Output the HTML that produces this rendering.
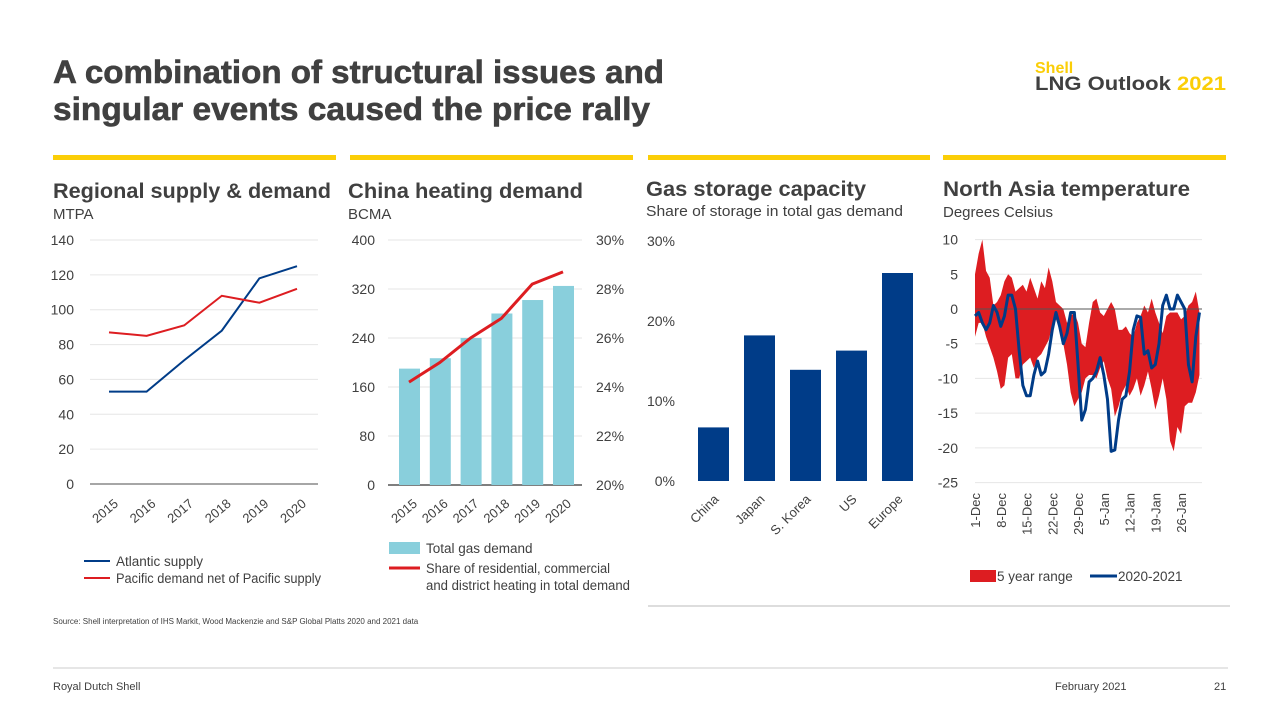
<!DOCTYPE html>
<html><head><meta charset="utf-8"><style>
body{margin:0;width:1280px;height:720px;background:#fff;overflow:hidden;font-family:"Liberation Sans",sans-serif}
svg text{font-family:"Liberation Sans",sans-serif;fill:#404040}
</style></head><body>
<svg id="s" width="1280" height="720">
<text x="53" y="83" font-size="32" font-weight="bold" textLength="611" lengthAdjust="spacingAndGlyphs" stroke="#404040" stroke-width="0.6">A combination of structural issues and</text>
<text x="53" y="120" font-size="32" font-weight="bold" textLength="597" lengthAdjust="spacingAndGlyphs" stroke="#404040" stroke-width="0.6">singular events caused the price rally</text>
<text x="1035" y="73" font-size="16" font-weight="bold" style="fill:#FBCE07">Shell</text>
<text x="1035" y="90" font-size="19" font-weight="bold" textLength="191" lengthAdjust="spacingAndGlyphs">LNG Outlook <tspan style="fill:#FBCE07">2021</tspan></text>
<g>
<rect x="53" y="155" width="283" height="5" fill="#FBCE07"/><rect x="350" y="155" width="283" height="5" fill="#FBCE07"/>
<rect x="648" y="155" width="282" height="5" fill="#FBCE07"/><rect x="943" y="155" width="283" height="5" fill="#FBCE07"/>
</g>
<text x="53" y="198" font-size="21" font-weight="bold" textLength="278" lengthAdjust="spacingAndGlyphs">Regional supply &amp; demand</text>
<text x="53" y="219" font-size="15">MTPA</text>
<text x="348" y="198" font-size="21" font-weight="bold" textLength="235" lengthAdjust="spacingAndGlyphs">China heating demand</text>
<text x="348" y="219" font-size="15">BCMA</text>
<text x="646" y="196" font-size="21" font-weight="bold" textLength="220" lengthAdjust="spacingAndGlyphs">Gas storage capacity</text>
<text x="646" y="216" font-size="15" textLength="257" lengthAdjust="spacingAndGlyphs">Share of storage in total gas demand</text>
<text x="943" y="196" font-size="21" font-weight="bold" textLength="247" lengthAdjust="spacingAndGlyphs">North Asia temperature</text>
<text x="943" y="217" font-size="15">Degrees Celsius</text>
<g id="c1"></g><g id="c2"></g><g id="c3"></g><g id="c4"></g>
<line x1="648" y1="606" x2="1230" y2="606" stroke="#bbb"/>
<text x="53" y="624" font-size="8">Source: Shell interpretation of IHS Markit, Wood Mackenzie and S&amp;P Global Platts 2020 and 2021 data</text>
<line x1="53" y1="668" x2="1228" y2="668" stroke="#ccc"/>
<text x="53" y="690" font-size="11">Royal Dutch Shell</text>
<text x="1055" y="690" font-size="11">February 2021</text>
<text x="1214" y="690" font-size="11">21</text>
</svg>
<script>
const years=["2015","2016","2017","2018","2019","2020"];
const atlantic=[53,53,71,88,118,125];
const pacific=[87,85,91,108,104,112];
const c1Ticks=[0,20,40,60,80,100,120,140];
const gasDemand=[190,207,240,280,302,325];
const heatShare=[24.2,25.0,26.0,26.8,28.2,28.7];
const c2Left=[0,80,160,240,320,400];
const c2Right=[20,22,24,26,28,30];
const countries=["China","Japan","S. Korea","US","Europe"];
const storage=[6.7,18.2,13.9,16.3,26];
const c3Ticks=[0,10,20,30];
const tempBlue=[-1,-0.5,-2,-3,-2,0.5,-0.5,-2.5,-1,2,2,0,-6,-11,-12.5,-12.5,-9.5,-7.5,-9.5,-9,-6.5,-3,-0.5,-2.5,-5,-3.5,-0.5,-0.5,-8,-16,-14.5,-10.5,-10,-9,-7,-9.5,-13,-20.5,-20.3,-16,-13,-12.5,-9,-3,-1,-1.2,-6.5,-6,-8.5,-8,-5,0.5,2,0,0,2,1,0,-8,-10.5,-4,-0.5];
const rangeHi=[5,8,10,5.5,4.5,0.5,1,2,4,5,4.5,2.5,3,3.5,2.5,4.5,3,1.5,4,3,6,4,1,0.5,0,-2,-1,-0.5,-2,-5,-5.5,-2,1,1.5,-0.5,-1,0,1,0,-3,-3,-2.5,-3.5,-4,-2,-1,0.5,-0.5,1.5,-0.5,-2,-3.5,-1,-0.5,-0.5,-0.5,-1.5,-1,0.5,1,2.5,-0.5];
const rangeLo=[-4,-2,-2,-4,-5.5,-7,-9,-11.5,-11,-7,-6.5,-10,-10,-8,-7.5,-7,-8.5,-7,-6.5,-5.5,-4.5,-2.5,-1.5,-3,-5,-8,-12,-14,-13,-12,-10,-9.5,-9.5,-10,-8.5,-7.5,-10,-11.5,-15.5,-14,-12,-11,-12.5,-11.5,-10,-12.5,-11,-9,-11.5,-14.5,-12.5,-10,-13,-19,-20.5,-17,-18,-14,-13.5,-13.5,-12,-9.5];
const c4Ticks=[10,5,0,-5,-10,-15,-20,-25];
const c4Dates=["1-Dec","8-Dec","15-Dec","22-Dec","29-Dec","5-Jan","12-Jan","19-Jan","26-Jan"];
const NS="http://www.w3.org/2000/svg";
function mk(p,t,a,txt){const e=document.createElementNS(NS,t);for(const k in a)e.setAttribute(k,a[k]);if(txt!==undefined)e.textContent=txt;p.appendChild(e);return e;}
// Chart 1
(function(){const g=document.getElementById('c1');
const y=v=>484-v*(244/140), x=i=>109+i*37.6;
c1Ticks.forEach(t=>{const l=mk(g,'line',{x1:90,x2:318,y1:y(t),y2:y(t),stroke:t?'#e6e6e6':'#888','stroke-width':t?1:1.5});


const tx=mk(g,'text',{x:74,y:y(t)+5,'font-size':14,'text-anchor':'end'},t);

});
years.forEach((yr,i)=>{const tx=mk(g,'text',{x:x(i)+10,y:505,'font-size':13,'text-anchor':'end',transform:`rotate(-40 ${x(i)+10} 505)`},yr);

});
[[atlantic,'#003C88','atlantic-line'],[pacific,'#DD1D21','pacific-line']].forEach(([d,c,n])=>{
const p=mk(g,'polyline',{points:d.map((v,i)=>x(i)+','+y(v)).join(' '),fill:'none',stroke:c,'stroke-width':2});

});
let l=mk(g,'line',{x1:84,x2:110,y1:561,y2:561,stroke:'#003C88','stroke-width':2});
let t=mk(g,'text',{x:116,y:566,'font-size':13.5},'Atlantic supply');
l=mk(g,'line',{x1:84,x2:110,y1:578,y2:578,stroke:'#DD1D21','stroke-width':2});
t=mk(g,'text',{x:116,y:583,'font-size':13.5,textLength:205,lengthAdjust:'spacingAndGlyphs'},'Pacific demand net of Pacific supply');
})();
// Chart 2
(function(){const g=document.getElementById('c2');
const y=v=>485-v*(245/400), yr=v=>485-(v-20)*(245/10), x=i=>409+i*30.8;
c2Left.forEach((t,k)=>{const l=mk(g,'line',{x1:388,x2:582,y1:y(t),y2:y(t),stroke:t?'#e6e6e6':'#555','stroke-width':t?1:1.5});


const tx=mk(g,'text',{x:375,y:y(t)+5,'font-size':14,'text-anchor':'end'},t);

});
c2Right.forEach(t=>{const tx=mk(g,'text',{x:596,y:yr(t)+5,'font-size':14},t+'%');

});
gasDemand.forEach((v,i)=>{const r=mk(g,'rect',{x:x(i)-10,y:y(v),width:21,height:485-y(v),fill:'#89CFDC'});

});
const p=mk(g,'polyline',{points:heatShare.map((v,i)=>x(i)+','+yr(v)).join(' '),fill:'none',stroke:'#DD1D21','stroke-width':3});


years.forEach((yy,i)=>{const tx=mk(g,'text',{x:x(i)+9,y:505,'font-size':13,'text-anchor':'end',transform:`rotate(-40 ${x(i)+9} 505)`},yy);

});
let r=mk(g,'rect',{x:389,y:542,width:31,height:12,fill:'#89CFDC'});
let t=mk(g,'text',{x:426,y:553,'font-size':13.5},'Total gas demand');
let l=mk(g,'line',{x1:389,x2:420,y1:568,y2:568,stroke:'#DD1D21','stroke-width':3});
t=mk(g,'text',{x:426,y:573,'font-size':13.5,textLength:184,lengthAdjust:'spacingAndGlyphs'},'Share of residential, commercial');
t=mk(g,'text',{x:426,y:590,'font-size':13.5,textLength:204,lengthAdjust:'spacingAndGlyphs'},'and district heating in total demand');
})();
// Chart 3
(function(){const g=document.getElementById('c3');
const y=v=>481-v*(240/30), x=i=>713.5+i*46;
c3Ticks.forEach(t=>{const tx=mk(g,'text',{x:675,y:y(t)+5,'font-size':14,'text-anchor':'end'},t+'%');

});
storage.forEach((v,i)=>{const r=mk(g,'rect',{x:x(i)-15.5,y:y(v),width:31,height:481-y(v),fill:'#003C88'});


const tx=mk(g,'text',{x:x(i)+6,y:500,'font-size':13,'text-anchor':'end',transform:`rotate(-45 ${x(i)+6} 500)`},countries[i]);

});
})();
// Chart 4
(function(){const g=document.getElementById('c4');
const y=v=>309-v*(243/35), x=d=>975+d*3.68;
c4Ticks.forEach(t=>{const l=mk(g,'line',{x1:975,x2:1202,y1:y(t),y2:y(t),stroke:t?'#e6e6e6':'#555','stroke-width':1});


const tx=mk(g,'text',{x:958,y:y(t)+5,'font-size':14,'text-anchor':'end'},t);

});
const pts=rangeHi.map((v,i)=>x(i)+','+y(v)).concat(rangeLo.map((v,i)=>x(i)+','+y(v)).reverse());
const a=mk(g,'polygon',{points:pts.join(' '),fill:'#DD1D21'});


const z=mk(g,'line',{x1:975,x2:1202,y1:y(0),y2:y(0),stroke:'#555','stroke-width':1});


const p=mk(g,'polyline',{points:tempBlue.map((v,i)=>x(i)+','+y(v)).join(' '),fill:'none',stroke:'#003C88','stroke-width':3,'stroke-linejoin':'round'});


c4Dates.forEach((d,i)=>{const xx=x(i*7)+5;const tx=mk(g,'text',{x:xx,y:493,'font-size':13,'text-anchor':'end',transform:`rotate(-90 ${xx} 493)`},d);

});
let r=mk(g,'rect',{x:970,y:570,width:26,height:12,fill:'#DD1D21'});
let t=mk(g,'text',{x:997,y:581,'font-size':13.5},'5 year range');
let l=mk(g,'line',{x1:1090,x2:1117,y1:576,y2:576,stroke:'#003C88','stroke-width':3});
t=mk(g,'text',{x:1118,y:581,'font-size':13.5},'2020-2021');
})();
</script>
</body></html>
